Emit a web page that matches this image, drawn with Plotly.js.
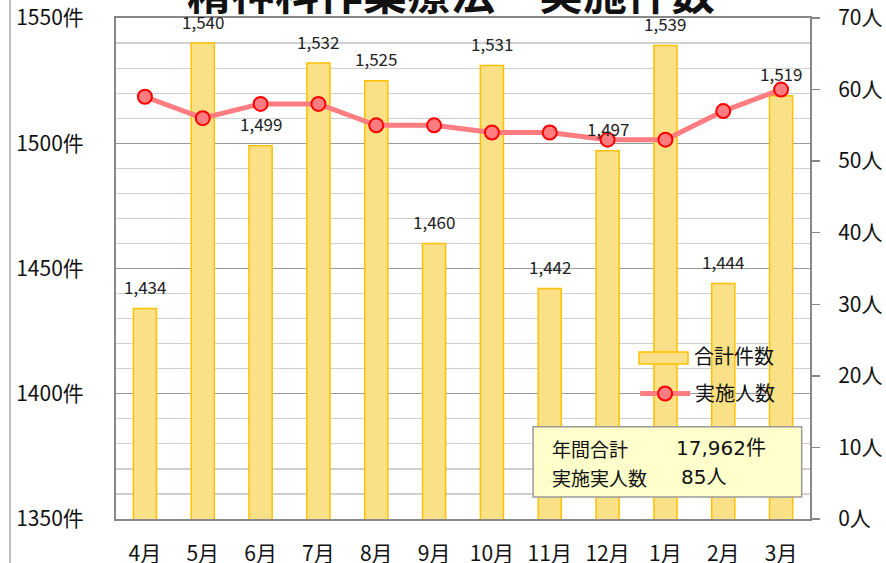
<!DOCTYPE html>
<html>
<head>
<meta charset="utf-8">
<script src="https://cdn.plot.ly/plotly-3.0.1.min.js"></script>
<style>html,body{margin:0;padding:0;background:#fff;}#chart{width:886px;height:563px;}</style>
</head>
<body>
<div id="chart"></div>
<script>
const months = ['4月','5月','6月','7月','8月','9月','10月','11月','12月','1月','2月','3月'];
const totalCases = [1434,1540,1499,1532,1525,1460,1531,1442,1497,1539,1444,1519];
const patients = [59,56,58,58,55,55,54,54,53,53,57,60];
const actualPatients = 85;
const chartTitle = '精神科作業療法　実施件数';
const barName = '合計件数';
const lineName = '実施人数';

const FONT = '"Noto Sans CJK JP", "Noto Sans", sans-serif';
const NUMFONT = '"DejaVu Sans", "Noto Sans CJK JP", sans-serif';
const yearTotal = totalCases.reduce((a,b)=>a+b,0);
const BAR_FILL = '#FAE087', BAR_EDGE = '#FFC000';

const bars = {
  type:'bar', name:barName, x:months, y:totalCases, yaxis:'y',
  width:0.4, showlegend:false,
  marker:{color:BAR_FILL, line:{color:BAR_EDGE, width:1.5}},
  hoverinfo:'skip'
};
const line = {
  type:'scatter', mode:'lines+markers', name:lineName, x:months, y:patients, yaxis:'y2',
  line:{color:'#FF7C80', width:5},
  marker:{color:'#FF7C80', size:14, line:{color:'#FF0000', width:2}},
  hoverinfo:'skip'
};

const labelAnns = months.map((m,i)=>({
  x:m, y:totalCases[i], xref:'x', yref:'y', yshift:22,
  text:totalCases[i].toLocaleString('en-US'), showarrow:false,
  font:{family:FONT, size:17, color:'#222'}
}));

const boxFont = {family:FONT, size:19, color:'#111'};
const numFont = {family:NUMFONT, size:20, color:'#111'};
const otherAnns = [
  {xref:'paper', yref:'paper', x:0.482, y:1.054, xanchor:'center', yanchor:'middle', text:'<b>'+chartTitle+'</b>', showarrow:false,
   font:{family:FONT, size:44, color:'#111'}},
  {xref:'paper', yref:'paper', x:0.830, y:0.327, xanchor:'left', yanchor:'middle', text:barName, showarrow:false,
   font:{family:FONT, size:20, color:'#111'}},
  {xref:'paper', yref:'paper', x:0.6254, y:0.1417, xanchor:'left', yanchor:'middle', text:'年間合計', showarrow:false, font:boxFont},
  {xref:'paper', yref:'paper', x:0.804, y:0.1417, xanchor:'left', yanchor:'middle', text:yearTotal.toLocaleString('en-US')+'件', showarrow:false, font:numFont},
  {xref:'paper', yref:'paper', x:0.6254, y:0.0838, xanchor:'left', yanchor:'middle', text:'実施実人数', showarrow:false, font:boxFont},
  {xref:'paper', yref:'paper', x:0.811, y:0.0838, xanchor:'left', yanchor:'middle', text:actualPatients+'人', showarrow:false, font:numFont}
];

const layout = {
  width:886, height:563,
  margin:{l:116, r:76, t:18, b:44},
  paper_bgcolor:'#fff', plot_bgcolor:'#fff',
  font:{family:FONT, color:'#111'},
  showlegend:true,
  legend:{x:0.748, y:0.2894, xanchor:'left', yanchor:'top', bgcolor:'rgba(0,0,0,0)',
          font:{family:FONT, size:20, color:'#111'}, itemwidth:50},
  xaxis:{type:'category', range:[-0.5,11.5], showline:true, mirror:true, linecolor:'#888', linewidth:2,
         ticks:'', tickfont:{family:FONT, size:21, color:'#111'}, ticklabelstandoff:15, fixedrange:true},
  yaxis:{range:[1350,1550], dtick:50, ticksuffix:'件', showline:true, linecolor:'#888', linewidth:2,
         gridcolor:'#9a9a9a', gridwidth:1.2, zeroline:false, ticks:'',
         minor:{dtick:10, showgrid:true, gridcolor:'#cfcfcf', gridwidth:1.2},
         tickfont:{family:FONT, size:21, color:'#111'}, ticklabelstandoff:26},
  yaxis2:{range:[0,70], dtick:10, ticksuffix:'人', overlaying:'y', side:'right', showgrid:false,
          showline:true, linecolor:'#888', linewidth:2, ticks:'outside', ticklen:8, tickcolor:'#888', tickwidth:1.5,
          zeroline:false, tickfont:{family:FONT, size:21, color:'#111'}, ticklabelstandoff:14},
  shapes:[
    {type:'rect', xref:'paper', yref:'paper', x0:0.601, x1:0.988, y0:0.044, y1:0.184, layer:'above',
     fillcolor:'#FFFFCC', line:{color:'#9a9a9a', width:1.5}},
    {type:'rect', xref:'paper', yref:'paper', x0:0.7536, x1:0.8242, y0:0.3094, y1:0.3333, layer:'above',
     fillcolor:BAR_FILL, line:{color:BAR_EDGE, width:1.5}},
    {type:'line', xref:'paper', yref:'paper', x0:-0.1527, x1:-0.1527, y0:-0.2, y1:1.2,
     line:{color:'#aaa', width:1.5}}
  ],
  annotations: labelAnns.concat(otherAnns)
};

Plotly.newPlot('chart', [bars, line], layout, {displayModeBar:false, staticPlot:true});
</script>
</body>
</html>
